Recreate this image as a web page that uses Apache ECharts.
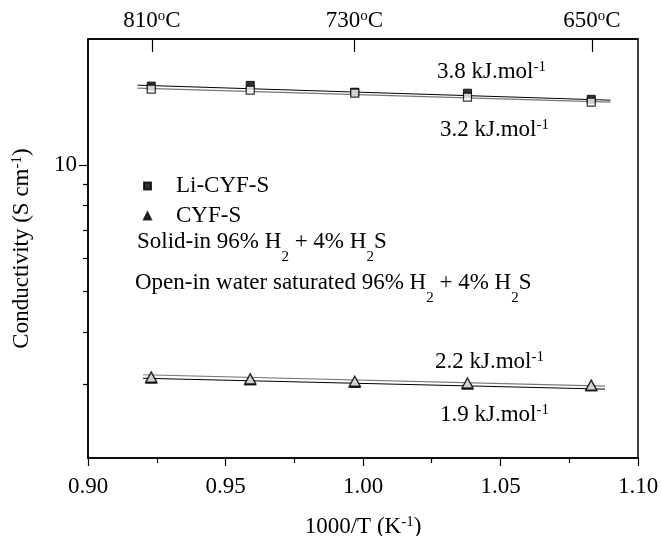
<!DOCTYPE html>
<html>
<head>
<meta charset="utf-8">
<script src="https://cdn.jsdelivr.net/npm/echarts@6/dist/echarts.min.js"></script>
<style>html,body{margin:0;padding:0;background:#fff;}#c{width:661px;height:536px;}</style>
</head>
<body>
<div id="c"></div>
<script>
// ---- data ----
const invT = [0.923, 0.959, 0.997, 1.038, 1.083];          // 1000/T (K^-1)
const liSolid = [15.44, 15.50, 14.93, 14.85, 14.36];        // Li-CYF-S, solid (filled squares)
const liOpen  = [15.18, 15.10, 14.85, 14.53, 14.13];        // Li-CYF-S, open (open squares)
const cyfSolid = [3.10, 3.07, 3.03, 3.00, 2.97];            // CYF-S, solid (filled triangles)
const cyfOpen  = [3.12, 3.09, 3.05, 3.02, 2.985];           // CYF-S, open (open triangles)

const fitLiX = [0.918, 1.090];
const fitLiSolid = [15.52, 14.29];   // 3.8 kJ/mol
const fitLiOpen  = [15.27, 14.13];   // 3.2 kJ/mol
const fitCyfX = [0.920, 1.088];
const fitCyfA = [3.16, 2.97];        // 2.2 kJ/mol
const fitCyfB = [3.10, 2.92];        // 1.9 kJ/mol

const xTicks = [0.90, 0.95, 1.00, 1.05, 1.10];
const yMajor = [10];
const yMinor = [3, 4, 5, 6, 7, 8, 9];
const topTempsC = [810, 730, 650];

const energyLabels = ['3.8', '3.2', '2.2', '1.9'];

// ---- helpers ----
const pairs = (xs, ys) => xs.map((x, i) => [x, ys[i]]);
const topPos = topTempsC.map(t => 1000 / (t + 273.15));
const FONT = 'Liberation Serif';
const FS = 23;
const richBase = {
  a: { fontFamily: FONT, fontSize: FS, color: '#000', lineHeight: 24, verticalAlign: 'top' },
  s: { fontFamily: FONT, fontSize: 15, color: '#000', lineHeight: 15, verticalAlign: 'top' },
  b: { fontFamily: FONT, fontSize: 15, color: '#000', lineHeight: 15, verticalAlign: 'top', padding: [20, 0, 0, 0] }
};

function energyText(v) { return '{a|' + v + ' kJ.mol}{s|-1}'; }

const chart = echarts.init(document.getElementById('c'), null, { renderer: 'canvas' });

const option = {
  backgroundColor: '#fff',
  animation: false,
  grid: { left: 88, right: 23, top: 39, bottom: 78, show: true, borderColor: '#000', borderWidth: 1.5,
          containLabel: false, outerBoundsMode: 'none' },
  legend: {
    orient: 'vertical', left: 138, top: 169, itemGap: 6,
    itemWidth: 7, itemHeight: 7,
    data: ['Li-CYF-S', 'CYF-S'],
    textStyle: { fontFamily: FONT, fontSize: FS, color: '#000', padding: [0, 0, 0, 20], lineHeight: 24 },
    selectedMode: false
  },
  xAxis: [
    {
      type: 'value', position: 'bottom', min: 0.9, max: 1.1, interval: 0.05,
      axisLine: { show: true, lineStyle: { color: '#000', width: 1.5 } },
      axisTick: { show: true, inside: false, length: 8, lineStyle: { color: '#000', width: 1.2 } },
      minorTick: { show: true, splitNumber: 2, length: 5, lineStyle: { color: '#000', width: 1.2 } },
      splitLine: { show: false },
      axisLabel: { margin: 17, fontFamily: FONT, fontSize: FS, color: '#000', formatter: v => v.toFixed(2) },
      name: '{a|1000/T (K}{s|-1}{a|)}', nameLocation: 'middle', nameGap: 57,
      nameTextStyle: { rich: richBase }
    },
    {
      type: 'value', position: 'top', min: 0.9, max: 1.1,
      axisLine: { show: true, lineStyle: { color: '#000', width: 1.5 } },
      axisTick: { show: true, inside: true, length: 13, customValues: topPos, lineStyle: { color: '#000', width: 1.2 } },
      splitLine: { show: false },
      axisLabel: {
        margin: 6, customValues: topPos,
        formatter: v => {
          const t = Math.round(1000 / v - 273.15);
          return '{a|' + t + '}{s|o}{a|C}';
        },
        rich: richBase
      }
    }
  ],
  yAxis: [
    {
      type: 'log', logBase: 10, min: 2, max: 20, position: 'left',
      axisLine: { show: true, lineStyle: { color: '#000', width: 1.5 } },
      axisTick: { show: true, inside: false, length: 9, customValues: yMajor, lineStyle: { color: '#000', width: 1.2 } },
      splitLine: { show: false },
      axisLabel: { margin: 11, customValues: yMajor, fontFamily: FONT, fontSize: FS, color: '#000', formatter: v => String(Math.round(v)) },
      name: '{a|Conductivity (S cm}{s|-1}{a|)}', nameLocation: 'middle', nameGap: 54, nameRotate: 90,
      nameTextStyle: { rich: richBase }
    },
    {
      type: 'log', logBase: 10, min: 2, max: 20, position: 'left',
      axisLine: { show: false },
      axisTick: { show: true, inside: false, length: 5, customValues: yMinor, lineStyle: { color: '#000', width: 1.2 } },
      splitLine: { show: false },
      axisLabel: { show: false }
    }
  ],
  series: [
    { name: 'fit38', type: 'line', data: pairs(fitLiX, fitLiSolid), symbol: 'none', lineStyle: { color: '#000', width: 1 }, silent: true, z: 1 },
    { name: 'fit32', type: 'line', data: pairs(fitLiX, fitLiOpen), symbol: 'none', lineStyle: { color: '#777', width: 1.2 }, silent: true, z: 1 },
    { name: 'fit22', type: 'line', data: pairs(fitCyfX, fitCyfA), symbol: 'none', lineStyle: { color: '#777', width: 1.2 }, silent: true, z: 1 },
    { name: 'fit19', type: 'line', data: pairs(fitCyfX, fitCyfB), symbol: 'none', lineStyle: { color: '#000', width: 1 }, silent: true, z: 1 },
    { name: 'Li-CYF-S', type: 'scatter', data: pairs(invT, liSolid), symbol: 'rect', symbolSize: 8,
      itemStyle: { color: '#000', borderColor: '#000', borderWidth: 1 }, z: 3 },
    { name: 'Li-CYF-S open', type: 'scatter', data: pairs(invT, liOpen), symbol: 'rect', symbolSize: 8,
      itemStyle: { color: '#fff', borderColor: '#000', borderWidth: 1.2 }, z: 4 },
    { name: 'CYF-S', type: 'scatter', data: pairs(invT, cyfSolid), symbol: 'triangle', symbolSize: [11, 10],
      itemStyle: { color: '#000', borderColor: '#000', borderWidth: 1 }, z: 3 },
    { name: 'CYF-S open', type: 'scatter', data: pairs(invT, cyfOpen), symbol: 'triangle', symbolSize: [11, 10],
      itemStyle: { color: '#fff', borderColor: '#000', borderWidth: 1.4 }, z: 4 }
  ],
  graphic: [
    { type: 'text', left: 437, top: 60, style: { text: energyText(energyLabels[0]), rich: richBase } },
    { type: 'text', left: 440, top: 118, style: { text: energyText(energyLabels[1]), rich: richBase } },
    { type: 'text', left: 435, top: 350, style: { text: energyText(energyLabels[2]), rich: richBase } },
    { type: 'text', left: 440, top: 403, style: { text: energyText(energyLabels[3]), rich: richBase } },
    { type: 'text', left: 137, top: 230, style: { text: '{a|Solid-in 96% H}{b|2}{a| + 4% H}{b|2}{a|S}', rich: richBase } },
    { type: 'text', left: 135, top: 271, style: { text: '{a|Open-in water saturated 96% H}{b|2}{a| + 4% H}{b|2}{a|S}', rich: richBase } }
  ]
};
chart.setOption(option);
</script>
</body>
</html>
